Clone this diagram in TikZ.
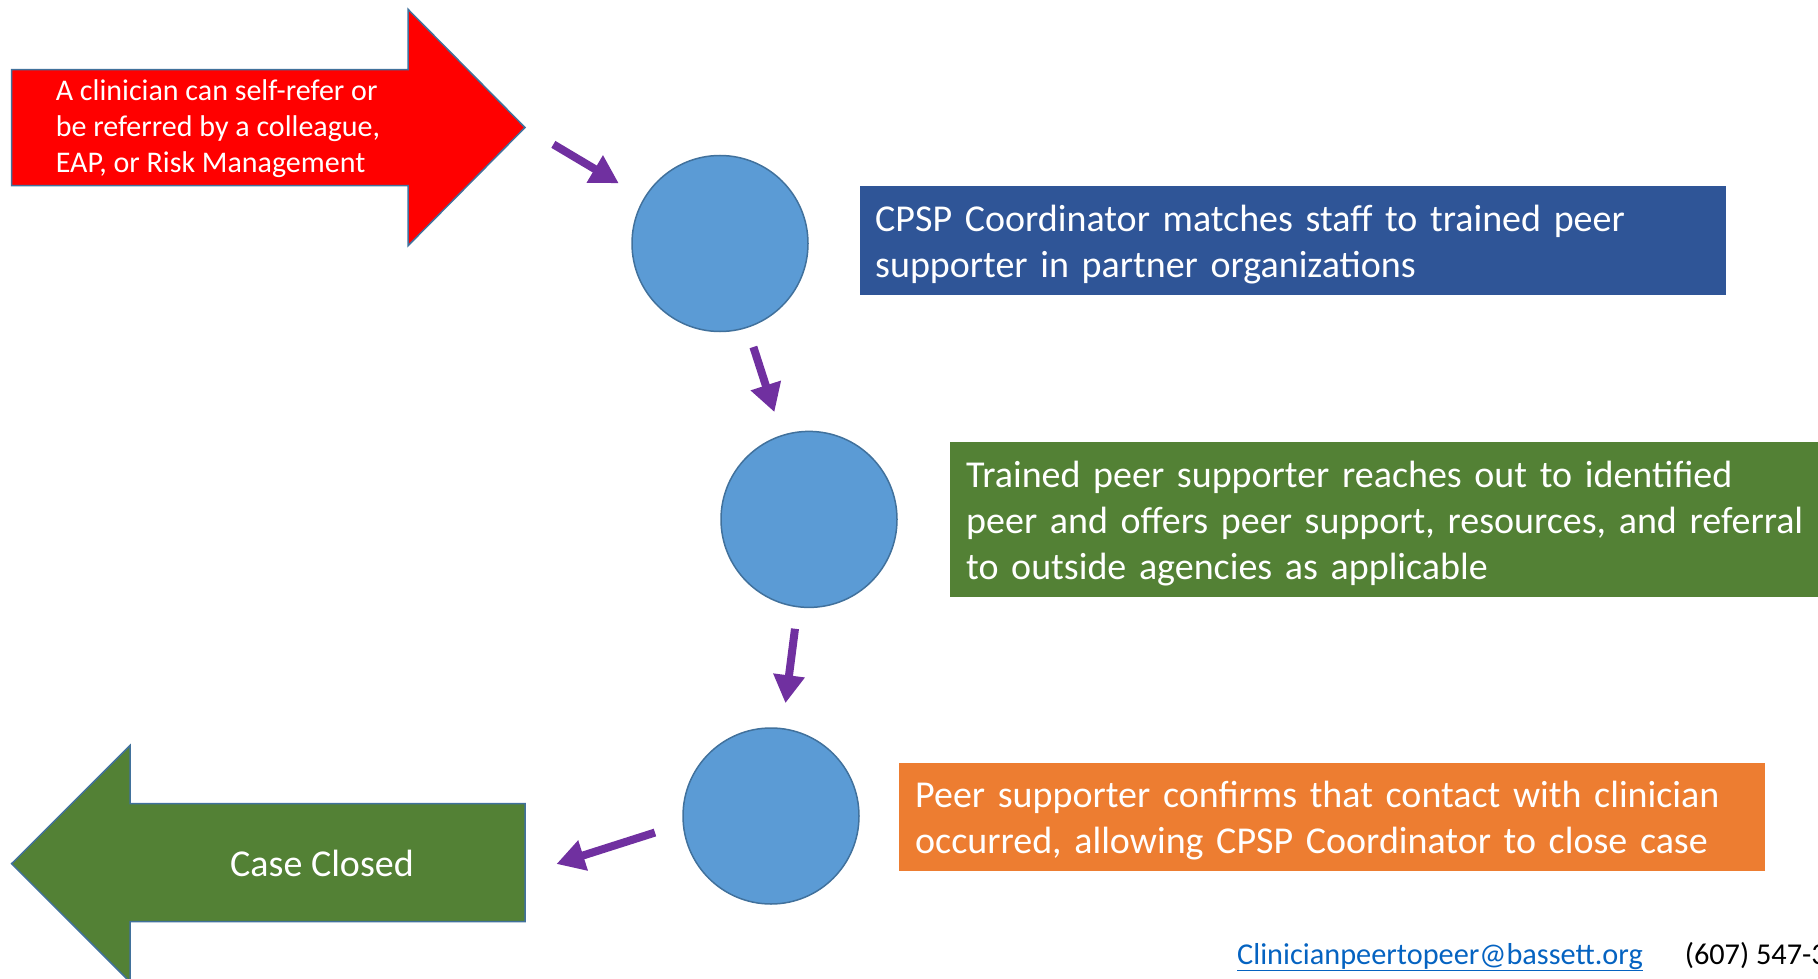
\documentclass[tikz,border=0pt]{standalone}
\usepackage{fontspec}
\setmainfont{Carlito}
\usetikzlibrary{arrows.meta}
\definecolor{referred}{HTML}{FF0000}
\definecolor{closed}{HTML}{538135}
\definecolor{matchbox}{HTML}{2F5597}
\definecolor{reachbox}{HTML}{538135}
\definecolor{confirmbox}{HTML}{ED7D31}
\definecolor{stepfill}{HTML}{5B9BD5}
\definecolor{stepline}{HTML}{41719C}
\definecolor{flowline}{HTML}{7030A0}
\definecolor{maillink}{HTML}{0563C1}

\begin{document}
\begin{tikzpicture}[x=1pt, y=-1pt,
  stage/.style={circle, fill=stepfill, draw=stepline, line width=1.5pt, minimum size=176pt, inner sep=0pt},
  note/.style={anchor=north west, text=white, align=left, inner xsep=15pt, inner ysep=0pt, font=\fontsize{38}{46}\selectfont},
  bigarrow/.style={draw=stepline, line width=1.5pt},
  flow/.style={-{Triangle[length=28pt,width=30pt]}, line width=8pt, color=flowline}]
\useasboundingbox (0,0) rectangle (1818,979);
\draw[bigarrow, fill=referred] (11.6,69.6) -- (408,69.6) -- (408,9.3) -- (525,127.5) -- (408,245.8) -- (408,185.5) -- (11.6,185.5) -- cycle;
\draw[bigarrow, fill=closed] (525,803.5) -- (130,803.5) -- (130,745.5) -- (11.6,863.7) -- (130,982) -- (130,921.7) -- (525,921.7) -- cycle;
\coordinate (tip) at (525,127.5);
\coordinate (tail) at (525,874);
\node[anchor=west, text=white, align=left, inner sep=0pt, font=\fontsize{30}{36}\selectfont] (R) at (55.6,128.5) {A clinician can self-refer or\\be referred by a colleague,\\EAP, or Risk Management};
\node[text=white, inner sep=0pt, font=\fontsize{38}{46}\selectfont] (Z) at (322,863) {Case Closed};
\node[stage] (A) at (720,243.5) {};
\node[stage] (B) at (809,519.4) {};
\node[stage] (C) at (771,816) {};
\node[note, fill=matchbox, text width=836pt, minimum height=109pt] (M) at (860,185.5) {\rule{0pt}{36pt}CPSP Coordinator matches staff to trained peer\\supporter in partner organizations};
\node[note, fill=reachbox, inner xsep=16pt, text width=880pt, minimum height=155pt] (T) at (950,441.7) {\rule{0pt}{35pt}Trained peer supporter reaches out to identified\\peer and offers peer support, resources, and referral\\to outside agencies as applicable};
\node[note, fill=confirmbox, inner xsep=16.5pt, text width=833pt, minimum height=108pt] (K) at (898.5,763) {\rule{0pt}{34pt}Peer supporter confirms that contact with clinician\\occurred, allowing CPSP Coordinator to close case};
\node[anchor=base west, inner sep=0pt, text=maillink, font=\fontsize{30.3}{36}\selectfont] (L) at (1237,964) {\underline{Clinicianpeertopeer@bassett.org}};
\node[anchor=base west, inner sep=0pt, font=\fontsize{30.3}{36}\selectfont] (P) at (1684.6,964) {(607) 547-3};
\path[flow]
(tip) edge[shorten <=33pt, shorten >=29pt] (A)
(A) edge[shorten <=20pt, shorten >=24pt] (B)
(B) edge[shorten <=21.5pt, shorten >=25pt] (C)
(C.185) edge[shorten <=29pt, shorten >=33pt] (tail);
\end{tikzpicture}
\end{document}
